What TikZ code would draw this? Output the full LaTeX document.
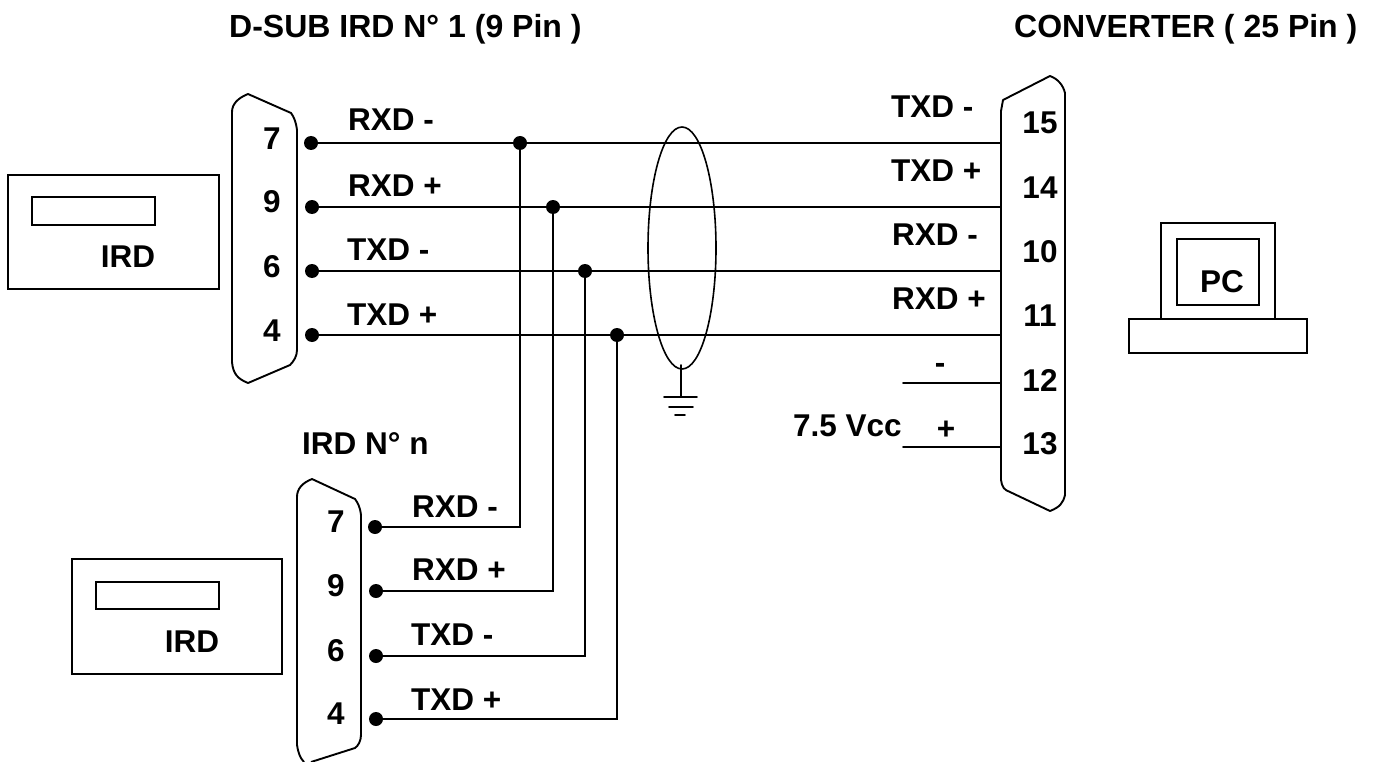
\documentclass[tikz,border=0pt]{standalone}
\usepackage{fontspec}
\usetikzlibrary{shapes.geometric}
\setmainfont{Liberation Sans}
\tikzset{
  wire/.style={line width=1.7pt,line cap=round},
  shell/.style={line width=1.9pt,line join=round},
  box/.style={draw,line width=1.5pt,minimum width=0pt,inner sep=0pt},
  pinlabel/.style={font=\fontsize{31.5}{36}\selectfont\bfseries,inner sep=0pt},
  titlelabel/.style={font=\fontsize{32}{36}\selectfont\bfseries,inner sep=0pt},
  dot/.style={circle,fill=black,inner sep=0pt,minimum size=14pt},
}
\begin{document}
\begin{tikzpicture}[x=1pt,y=-1pt]
\useasboundingbox (0,0) rectangle (1375,762);
\fill[white] (0,0) rectangle (1375,762);
% titles
\node[titlelabel,anchor=west] (t1) at (229,29) {D-SUB IRD N° 1 (9 Pin )};
\node[titlelabel,anchor=west] (t2) at (1014,29) {CONVERTER ( 25 Pin )};
\node[pinlabel,anchor=west] (t3) at (302,444) {IRD N° n};
% connector shells
\draw[shell] (297,130) .. controls (296,122) and (294,117) .. (291,113) -- (248,94) .. controls (238,98) and (232,104) .. (232,112) -- (232,362) .. controls (233,374) and (238,379) .. (248,383) -- (290,365) .. controls (294,361) and (297,356) .. (297,350) -- cycle;
\draw[shell] (304,762) .. controls (300,758) and (298,752) .. (297,745) -- (297,497) .. controls (297,489) and (302,483) .. (312,479) -- (355,499) .. controls (358,503) and (360,507) .. (361,515) -- (361,735) .. controls (361,741) and (358,746) .. (355,748) -- (311,762);
\draw[shell] (1001,111) -- (1003,100) -- (1050,76) .. controls (1058,79) and (1063,85) .. (1065,93) -- (1065,495) .. controls (1063,503) and (1060,507) .. (1050,511) -- (1010,492) .. controls (1004,490) and (1002,487) .. (1001,480) -- cycle;
% left pin numbers
\node[pinlabel] (n7) at (272,139) {7};
\node[pinlabel] (n9) at (272,202) {9};
\node[pinlabel] (n6) at (272,267) {6};
\node[pinlabel] (n4) at (272,331) {4};
\node[pinlabel] (m7) at (336,522) {7};
\node[pinlabel] (m9) at (336,586) {9};
\node[pinlabel] (m6) at (336,651) {6};
\node[pinlabel] (m4) at (336,714) {4};
\node[pinlabel] (c15) at (1040,123) {15};
\node[pinlabel] (c14) at (1040,188) {14};
\node[pinlabel] (c10) at (1040,252) {10};
\node[pinlabel] (c11) at (1040,316) {11};
\node[pinlabel] (c12) at (1040,380) {12};
\node[pinlabel] (c13) at (1040,444) {13};
% dots
\node[dot] (a7) at (311,143) {};
\node[dot] (a9) at (312,207) {};
\node[dot] (a6) at (312,271) {};
\node[dot] (a4) at (312,335) {};
\node[dot] (b7) at (375,527) {};
\node[dot] (b9) at (376,591) {};
\node[dot] (b6) at (376,656) {};
\node[dot] (b4) at (376,719) {};
\node[dot] (j7) at (520,143) {};
\node[dot] (j9) at (553,207) {};
\node[dot] (j6) at (585,271) {};
\node[dot] (j4) at (617,335) {};
% converter ends
\coordinate (e15) at (1001,143);
\coordinate (e14) at (1001,207);
\coordinate (e10) at (1001,271);
\coordinate (e11) at (1001,335);
\coordinate (e12) at (1001,383);
\coordinate (e13) at (1001,447);
\coordinate (f12) at (903,383);
\coordinate (f13) at (903,447);
% wires
\draw[wire] (a7) -- (e15);
\draw[wire] (a9) -- (e14);
\draw[wire] (a6) -- (e10);
\draw[wire] (a4) -- (e11);
\draw[wire] (f12) -- (e12);
\draw[wire] (f13) -- (e13);
\draw[wire] (j7.center) -- (j7.center |- b7.center) -- (b7);
\draw[wire] (j9.center) -- (j9.center |- b9.center) -- (b9);
\draw[wire] (j6.center) -- (j6.center |- b6.center) -- (b6);
\draw[wire] (j4.center) -- (j4.center |- b4.center) -- (b4);
% shield
\node[draw,ellipse,line width=1.6pt,minimum width=68pt,minimum height=242pt,inner sep=0pt] (shield) at (682,248) {};
\coordinate (g0) at (681,365);
\coordinate (g1) at (681,397);
\draw[wire] (g0) -- (g1);
\draw[wire] (664,397) -- (697,397);
\draw[wire] (669,407) -- (693,407);
\draw[wire] (675,415) -- (685,415);
% wire labels
\node[pinlabel,anchor=west] at (348,120) {RXD -};
\node[pinlabel,anchor=west] at (348,186) {RXD +};
\node[pinlabel,anchor=west] at (347,250) {TXD -};
\node[pinlabel,anchor=west] at (347,315) {TXD +};
\node[pinlabel,anchor=west] at (412,507) {RXD -};
\node[pinlabel,anchor=west] at (412,570) {RXD +};
\node[pinlabel,anchor=west] at (411,635) {TXD -};
\node[pinlabel,anchor=west] at (411,700) {TXD +};
\node[pinlabel,anchor=west] at (891,107) {TXD -};
\node[pinlabel,anchor=west] at (891,171) {TXD +};
\node[pinlabel,anchor=west] at (892,235) {RXD -};
\node[pinlabel,anchor=west] at (892,299) {RXD +};
\node[pinlabel] at (940,368) {-};
\node[pinlabel] at (946,430) {+};
\node[pinlabel,anchor=west] at (793,426) {7.5 Vcc};
% devices
\draw[box] (8,175) rectangle (219,289);
\draw[box] (32,197) rectangle (155,225);
\node[pinlabel] (ird1) at (128,257) {IRD};
\draw[box] (72,559) rectangle (282,674);
\draw[box] (96,582) rectangle (219,609);
\node[pinlabel] (ird2) at (192,642) {IRD};
\draw[box] (1161,223) rectangle (1275,319);
\draw[box] (1177,239) rectangle (1259,305);
\draw[box] (1129,319) rectangle (1307,353);
\node[pinlabel] (pc) at (1222,282) {PC};
\end{tikzpicture}
\end{document}
